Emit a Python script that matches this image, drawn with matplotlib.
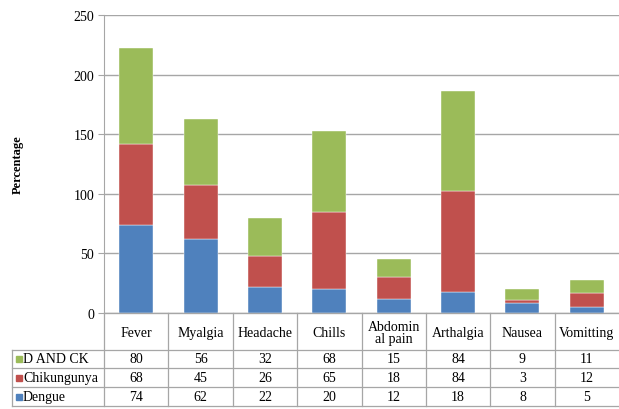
import matplotlib.pyplot as plt
from matplotlib.patches import Rectangle
import numpy as np

plt.rcParams['font.family'] = ['Liberation Serif', 'DejaVu Serif']

# data
symptoms = ['Fever', 'Myalgia', 'Headache', 'Chills', 'Abdomin\nal pain',
            'Arthalgia', 'Nausea', 'Vomitting']
dengue = [74, 62, 22, 20, 12, 18, 8, 5]
chikungunya = [68, 45, 26, 65, 18, 84, 3, 12]
d_and_ck = [80, 56, 32, 68, 15, 84, 9, 11]

c_blue = '#4F81BD'
c_red = '#C0504D'
c_green = '#9BBB59'
grid_c = '#A6A6A6'

W, H = 619, 410
AX_L, AX_R, AX_T, AX_B = 104, 619, 16, 314


def fx(px):
    return px / W


def fy(py):
    return 1 - py / H


fig = plt.figure(figsize=(W / 100, H / 100), dpi=100)
ax = fig.add_axes([fx(AX_L), fy(AX_B), (AX_R - AX_L) / W, (AX_B - AX_T) / H])

x = np.arange(len(symptoms))
w = 0.53
ax.bar(x, dengue, w, color=c_blue, edgecolor='white', linewidth=0.3, zorder=3)
ax.bar(x, chikungunya, w, bottom=dengue, color=c_red, edgecolor='white',
       linewidth=0.3, zorder=3)
bot2 = np.array(dengue) + np.array(chikungunya)
ax.bar(x, d_and_ck, w, bottom=bot2, color=c_green, edgecolor='white',
       linewidth=0.3, zorder=3)

ax.set_xlim(-0.5, len(symptoms) - 0.5)
ax.set_ylim(0, 250)
ax.set_yticks(range(0, 251, 50))
ax.yaxis.grid(True, color=grid_c, linewidth=1.0, zorder=0)
ax.tick_params(axis='y', length=4, color=grid_c, labelsize=10, pad=3)
ax.set_xticks([])
for s in ['top', 'right']:
    ax.spines[s].set_visible(False)
ax.spines['left'].set_color(grid_c)
ax.spines['bottom'].set_color(grid_c)
ax.set_ylabel('Percentage', fontsize=9, fontweight='bold', labelpad=36)

# data table below the plot, drawn by hand
rows = ['D AND CK', 'Chikungunya', 'Dengue']
row_vals = [d_and_ck, chikungunya, dengue]
row_colors = [c_green, c_red, c_blue]
row_lines = [314, 351, 369, 388, 407]
tab_left = 12
ncol = len(symptoms)
col_w = (AX_R - AX_L) / ncol
col_lines = [AX_L + i * col_w for i in range(ncol + 1)]

line_kw = dict(color=grid_c, linewidth=0.9, transform=fig.transFigure)
# horizontal lines
for i, py in enumerate(row_lines):
    x0 = AX_L if i == 0 else tab_left
    fig.add_artist(plt.Line2D([fx(x0), fx(AX_R)], [fy(py), fy(py)], **line_kw))
# vertical lines (no border on the far right)
for px in col_lines[:-1]:
    fig.add_artist(plt.Line2D([fx(px), fx(px)], [fy(row_lines[0]), fy(row_lines[-1])],
                              **line_kw))
fig.add_artist(plt.Line2D([fx(tab_left), fx(tab_left)],
                          [fy(row_lines[1]), fy(row_lines[-1])], **line_kw))

txt_kw = dict(fontsize=10, transform=fig.transFigure, va='center')
# header
hy = (row_lines[0] + row_lines[1]) / 2
for i, name in enumerate(symptoms):
    cx = (col_lines[i] + col_lines[i + 1]) / 2
    fig.text(fx(cx), fy(hy + 1), name, ha='center', linespacing=0.95, **txt_kw)
# rows
for r, (name, vals, col) in enumerate(zip(rows, row_vals, row_colors)):
    cy = (row_lines[r + 1] + row_lines[r + 2]) / 2
    fig.patches.append(Rectangle((fx(16), fy(cy + 3)), 6 / W, 6 / H,
                                 transform=fig.transFigure, color=col, figure=fig))
    fig.text(fx(23), fy(cy), name, ha='left', **txt_kw)
    for i, v in enumerate(vals):
        cx = (col_lines[i] + col_lines[i + 1]) / 2
        fig.text(fx(cx), fy(cy), str(v), ha='center', **txt_kw)

fig.savefig('out.png', dpi=100)
